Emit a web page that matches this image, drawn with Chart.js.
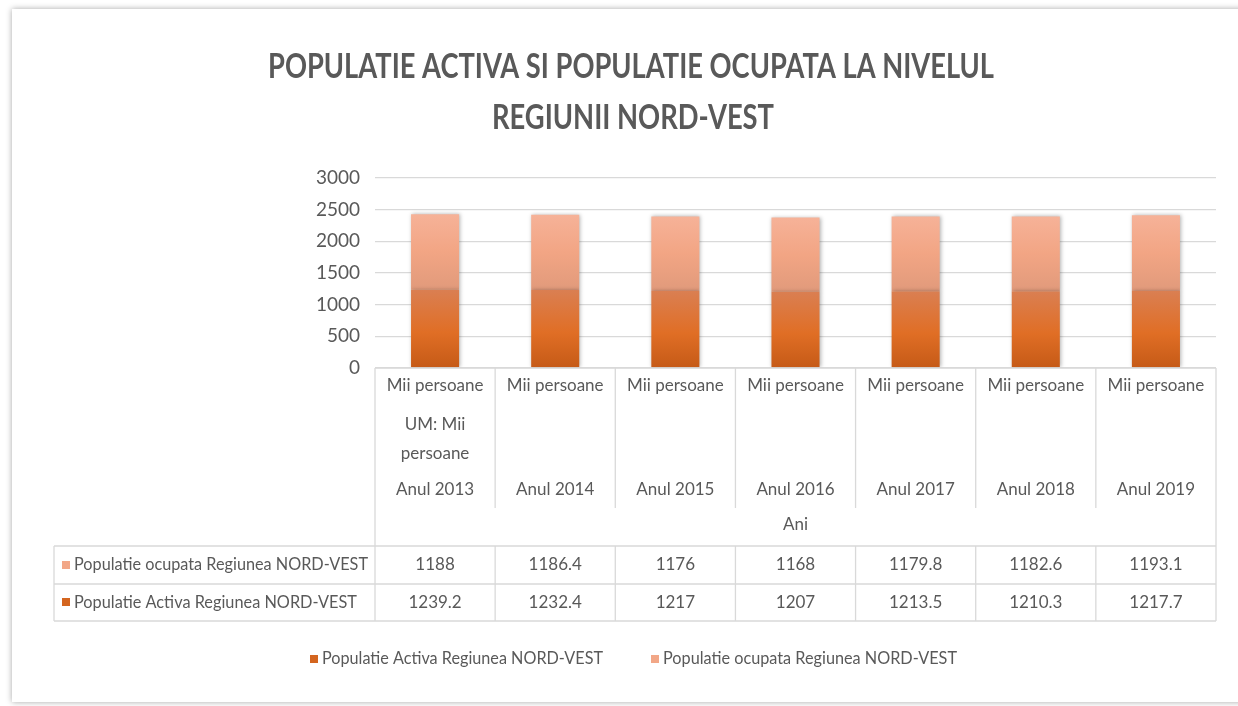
<!DOCTYPE html>
<html>
<head>
<meta charset="utf-8">
<script src="https://cdn.jsdelivr.net/npm/chart.js@4.4.1/dist/chart.umd.min.js"></script>
<style>
  html, body { margin: 0; padding: 0; background: #fff; }
  #wrap { width: 1238px; height: 706px; }
</style>
</head>
<body>
<div id="wrap"><canvas id="popChart" width="1238" height="706"></canvas></div>
<script>
// data
const years = ['Anul 2013', 'Anul 2014', 'Anul 2015', 'Anul 2016', 'Anul 2017', 'Anul 2018', 'Anul 2019'];
const unitLabel = 'Mii persoane';
const activa = [1239.2, 1232.4, 1217, 1207, 1213.5, 1210.3, 1217.7];
const ocupata = [1188, 1186.4, 1176, 1168, 1179.8, 1182.6, 1193.1];
const yTicks = [0, 500, 1000, 1500, 2000, 2500, 3000];

const labelActiva = 'Populatie Activa Regiunea NORD-VEST';
const labelOcupata = 'Populatie ocupata Regiunea NORD-VEST';

const TEXT = '#595959';
const GRID = '#d9d9d9';
const FONT = 'Lato, "Liberation Sans", Arial, sans-serif';

function barGradient(context, bottomVals, topVals, stops, flat) {
  const chart = context.chart;
  if (!chart.chartArea || context.dataIndex === undefined) return flat;
  const y = chart.scales.y;
  const i = context.dataIndex;
  const base = bottomVals ? bottomVals[i] : 0;
  const y0 = y.getPixelForValue(base);
  const y1 = y.getPixelForValue(base + topVals[i]);
  const g = chart.ctx.createLinearGradient(0, y0, 0, y1);
  stops.forEach(s => g.addColorStop(s[0], s[1]));
  return g;
}

// frame, title, table and legend drawn around the plot
const decorPlugin = {
  id: 'decor',
  beforeDraw(chart) {
    const ctx = chart.ctx;
    ctx.save();
    ctx.fillStyle = '#ffffff';
    ctx.fillRect(0, 0, chart.width, chart.height);
    ctx.shadowColor = 'rgba(0,0,0,0.35)';
    ctx.shadowBlur = 6;
    ctx.shadowOffsetX = 0;
    ctx.shadowOffsetY = 0;
    ctx.fillRect(12, 9, 1240, 693);
    ctx.restore();
  },
  beforeDatasetsDraw(chart) {
    const ctx = chart.ctx;
    ctx.save();
    ctx.shadowColor = 'rgba(0,0,0,0.3)';
    ctx.shadowBlur = 4;
    ctx.shadowOffsetX = 1;
  },
  afterDatasetsDraw(chart) {
    chart.ctx.restore();
  },
  afterDraw(chart) {
    const ctx = chart.ctx;
    const area = chart.chartArea;
    const x = chart.scales.x;
    const n = years.length;

    ctx.save();
    // title
    ctx.fillStyle = TEXT;
    ctx.textAlign = 'center';
    ctx.textBaseline = 'middle';
    ctx.font = 'bold 35px ' + FONT;
    ctx.fillText('POPULATIE ACTIVA SI POPULATIE OCUPATA LA NIVELUL', 631, 67, 726);
    ctx.fillText('REGIUNII NORD-VEST', 633, 118, 282);

    // table grid
    const bounds = [area.left];
    for (let i = 0; i < n - 1; i++) {
      bounds.push((x.getPixelForValue(i) + x.getPixelForValue(i + 1)) / 2);
    }
    bounds.push(area.right);

    const yTop = area.bottom, yAni = 508, yR1 = 546, yR2 = 584, yR3 = 621, xLeft = 54;
    ctx.strokeStyle = GRID;
    ctx.lineWidth = 1.3;
    ctx.beginPath();
    ctx.moveTo(area.left, yTop); ctx.lineTo(area.right, yTop);
    [yR1, yR2, yR3].forEach(yy => { ctx.moveTo(xLeft, yy); ctx.lineTo(area.right, yy); });
    ctx.moveTo(xLeft, yR1); ctx.lineTo(xLeft, yR3);
    bounds.forEach((bx, k) => {
      if (k === 0 || k === bounds.length - 1) {
        ctx.moveTo(bx, yTop); ctx.lineTo(bx, yR3);
      } else {
        ctx.moveTo(bx, yTop); ctx.lineTo(bx, yAni);
        ctx.moveTo(bx, yR1); ctx.lineTo(bx, yR3);
      }
    });
    ctx.stroke();

    // category labels
    ctx.fillStyle = TEXT;
    ctx.font = '17px ' + FONT;
    for (let i = 0; i < n; i++) {
      const cx = x.getPixelForValue(i);
      ctx.fillText(unitLabel, cx, 386);
      ctx.fillText(years[i], cx, 490);
      ctx.fillText(ocupata[i].toString(), cx, 565);
      ctx.fillText(activa[i].toString(), cx, 603);
    }
    const c0 = x.getPixelForValue(0);
    ctx.fillText('UM: Mii', c0, 425);
    ctx.fillText('persoane', c0, 454);
    ctx.fillText('Ani', (area.left + area.right) / 2, 525);

    // table row labels
    ctx.textAlign = 'left';
    ctx.fillStyle = '#f2a787';
    ctx.fillRect(62, 561, 8, 8);
    ctx.fillStyle = '#d4651f';
    ctx.fillRect(62, 598, 8, 8);
    ctx.fillStyle = TEXT;
    ctx.fillText(labelOcupata, 74, 565, 294);
    ctx.fillText(labelActiva, 74, 603, 283);

    // bottom legend
    ctx.fillStyle = '#d4651f';
    ctx.fillRect(310, 655, 8, 8);
    ctx.fillStyle = '#f2a787';
    ctx.fillRect(651, 655, 8, 8);
    ctx.fillStyle = TEXT;
    ctx.fillText(labelActiva, 322, 659, 281);
    ctx.fillText(labelOcupata, 663, 659, 294);
    ctx.restore();
  }
};

const chart = new Chart(document.getElementById('popChart'), {
  type: 'bar',
  data: {
    labels: years,
    datasets: [
      {
        label: labelActiva,
        data: activa,
        backgroundColor: ctx => barGradient(ctx, null, activa,
          [[0, '#c55a17'], [0.45, '#e06e25'], [1, '#da7f52']], '#d4651f'),
        categoryPercentage: 1,
        barPercentage: 0.4
      },
      {
        label: labelOcupata,
        data: ocupata,
        backgroundColor: ctx => barGradient(ctx, activa, ocupata,
          [[0, '#e19a7b'], [0.5, '#f2a584'], [1, '#f6b298']], '#f2a787'),
        categoryPercentage: 1,
        barPercentage: 0.4
      }
    ]
  },
  options: {
    responsive: false,
    animation: false,
    layout: { padding: { left: 0, right: 22, top: 178, bottom: 338 } },
    plugins: {
      legend: { display: false },
      title: { display: false },
      tooltip: { enabled: false }
    },
    scales: {
      x: {
        stacked: true,
        display: false
      },
      y: {
        stacked: true,
        min: 0,
        max: 3000,
        afterFit: scale => { scale.width = 375; },
        afterBuildTicks: scale => { scale.ticks = yTicks.map(v => ({ value: v })); },
        border: { display: false },
        grid: { color: GRID, lineWidth: 1.3, drawTicks: false },
        ticks: {
          padding: 15,
          color: TEXT,
          font: { family: FONT, size: 19 },
          callback: v => String(v)
        }
      }
    }
  },
  plugins: [decorPlugin]
});
</script>
</body>
</html>
